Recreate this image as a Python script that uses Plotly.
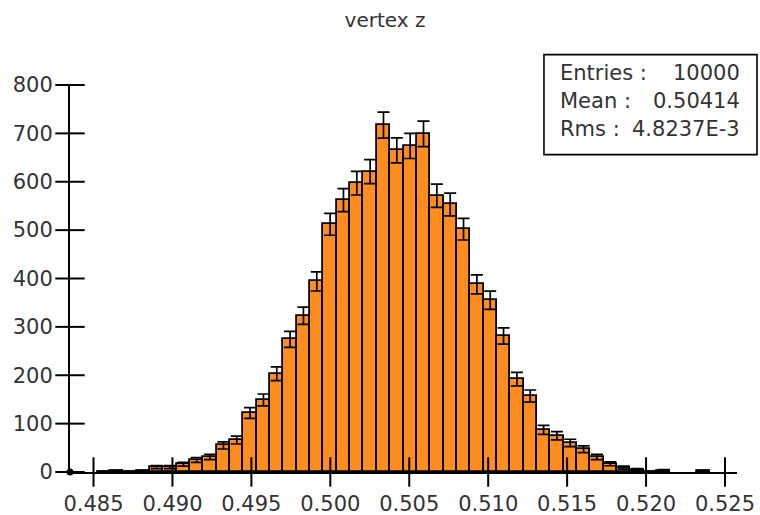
import numpy as np
import plotly.graph_objects as go

# ---- histogram data -------------------------------------------------------
title_text = "vertex z"
x_low, x_high, n_bins = 0.483511, 0.525760, 50
counts = [0, 0, 1, 2, 1, 2, 10, 10, 16, 25,
          31, 55, 66, 122, 149, 203, 274, 323, 394, 512,
          562, 597, 621, 717, 665, 674, 699, 571, 553, 502,
          388, 355, 281, 192, 157, 87, 75, 60, 47, 31,
          17, 9, 5, 1, 3, 0, 0, 2, 0, 0]
x_ticks = [0.485, 0.490, 0.495, 0.500, 0.505, 0.510, 0.515, 0.520, 0.525]
y_ticks = [0, 100, 200, 300, 400, 500, 600, 700, 800]
y_max = 800
stats_labels = ["Entries :", "Mean :", "Rms :"]
stats_values = ["10000", "0.50414", "4.8237E-3"]

# ---- derived bin geometry -------------------------------------------------
edges = np.linspace(x_low, x_high, n_bins + 1)
centers = 0.5 * (edges[:-1] + edges[1:])
bin_w = edges[1] - edges[0]
heights = [c if c > 0 else None for c in counts]
errors = [float(np.sqrt(c)) if c > 0 else None for c in counts]

FONT = "DejaVu Sans"
TXT = "#333333"
ORANGE = "#FF8C1E"

fig = go.Figure()
fig.add_trace(go.Bar(
    x=centers, y=heights, width=bin_w,
    marker=dict(color=ORANGE, line=dict(color="black", width=1.8)),
    error_y=dict(type="data", array=errors, visible=True,
                 color="black", thickness=1.7, width=6),
    hoverinfo="x+y",
))

# tick marks that cross the axis lines (drawn as line markers on the axes)
tick_marker = dict(size=21, color="black", line=dict(width=2, color="black"))
fig.add_trace(go.Scatter(
    x=x_ticks, y=[0] * len(x_ticks), mode="markers",
    marker=dict(symbol="line-ns", **tick_marker),
    cliponaxis=False, hoverinfo="skip",
))
fig.add_trace(go.Scatter(
    x=[x_low] * len(y_ticks), y=y_ticks, mode="markers",
    marker=dict(symbol="line-ew", **tick_marker),
    cliponaxis=False, hoverinfo="skip",
))
# origin marker at the lower edge of the first bin
fig.add_trace(go.Scatter(
    x=[edges[0]], y=[0], mode="markers",
    marker=dict(color="black", size=7), cliponaxis=False, hoverinfo="skip",
))

axis_common = dict(showline=True, linecolor="black", linewidth=2,
                   ticks="", tickmode="array", showgrid=False,
                   zeroline=False, automargin=False,
                   tickfont=dict(family=FONT, size=21, color=TXT))

fig.update_layout(
    width=760, height=515,
    margin=dict(l=70, r=23, t=85, b=43, autoexpand=False),
    paper_bgcolor="white", plot_bgcolor="white",
    showlegend=False, bargap=0,
    font=dict(family=FONT, size=21, color=TXT),
    title=dict(text=title_text, x=0.5066, xref="container", xanchor="center",
               y=1 - 20 / 515, yref="container", yanchor="middle",
               font=dict(family=FONT, size=20, color=TXT)),
    xaxis=dict(range=[x_low, x_high], tickvals=x_ticks, tickformat=".3f",
               ticklabelstandoff=12, **axis_common),
    yaxis=dict(range=[0, y_max], tickvals=y_ticks, ticklabelstandoff=11,
               **axis_common),
)

# statistics box
fig.add_shape(type="rect", xref="paper", yref="paper",
              x0=0.7106, x1=1.030, y0=0.8202, y1=1.0786,
              line=dict(color="black", width=1.6), fillcolor="white",
              layer="above")
line_y = [1.0315, 0.9579, 0.8855]
for lab, val, yy in zip(stats_labels, stats_values, line_y):
    fig.add_annotation(text=lab, xref="paper", yref="paper", x=0.7316, y=yy,
                       xanchor="left", yanchor="middle", showarrow=False,
                       font=dict(family=FONT, size=21, color=TXT))
    fig.add_annotation(text=val, xref="paper", yref="paper", x=1.0075, y=yy,
                       xanchor="right", yanchor="middle", showarrow=False,
                       font=dict(family=FONT, size=21, color=TXT))

fig.write_html("out.html")
